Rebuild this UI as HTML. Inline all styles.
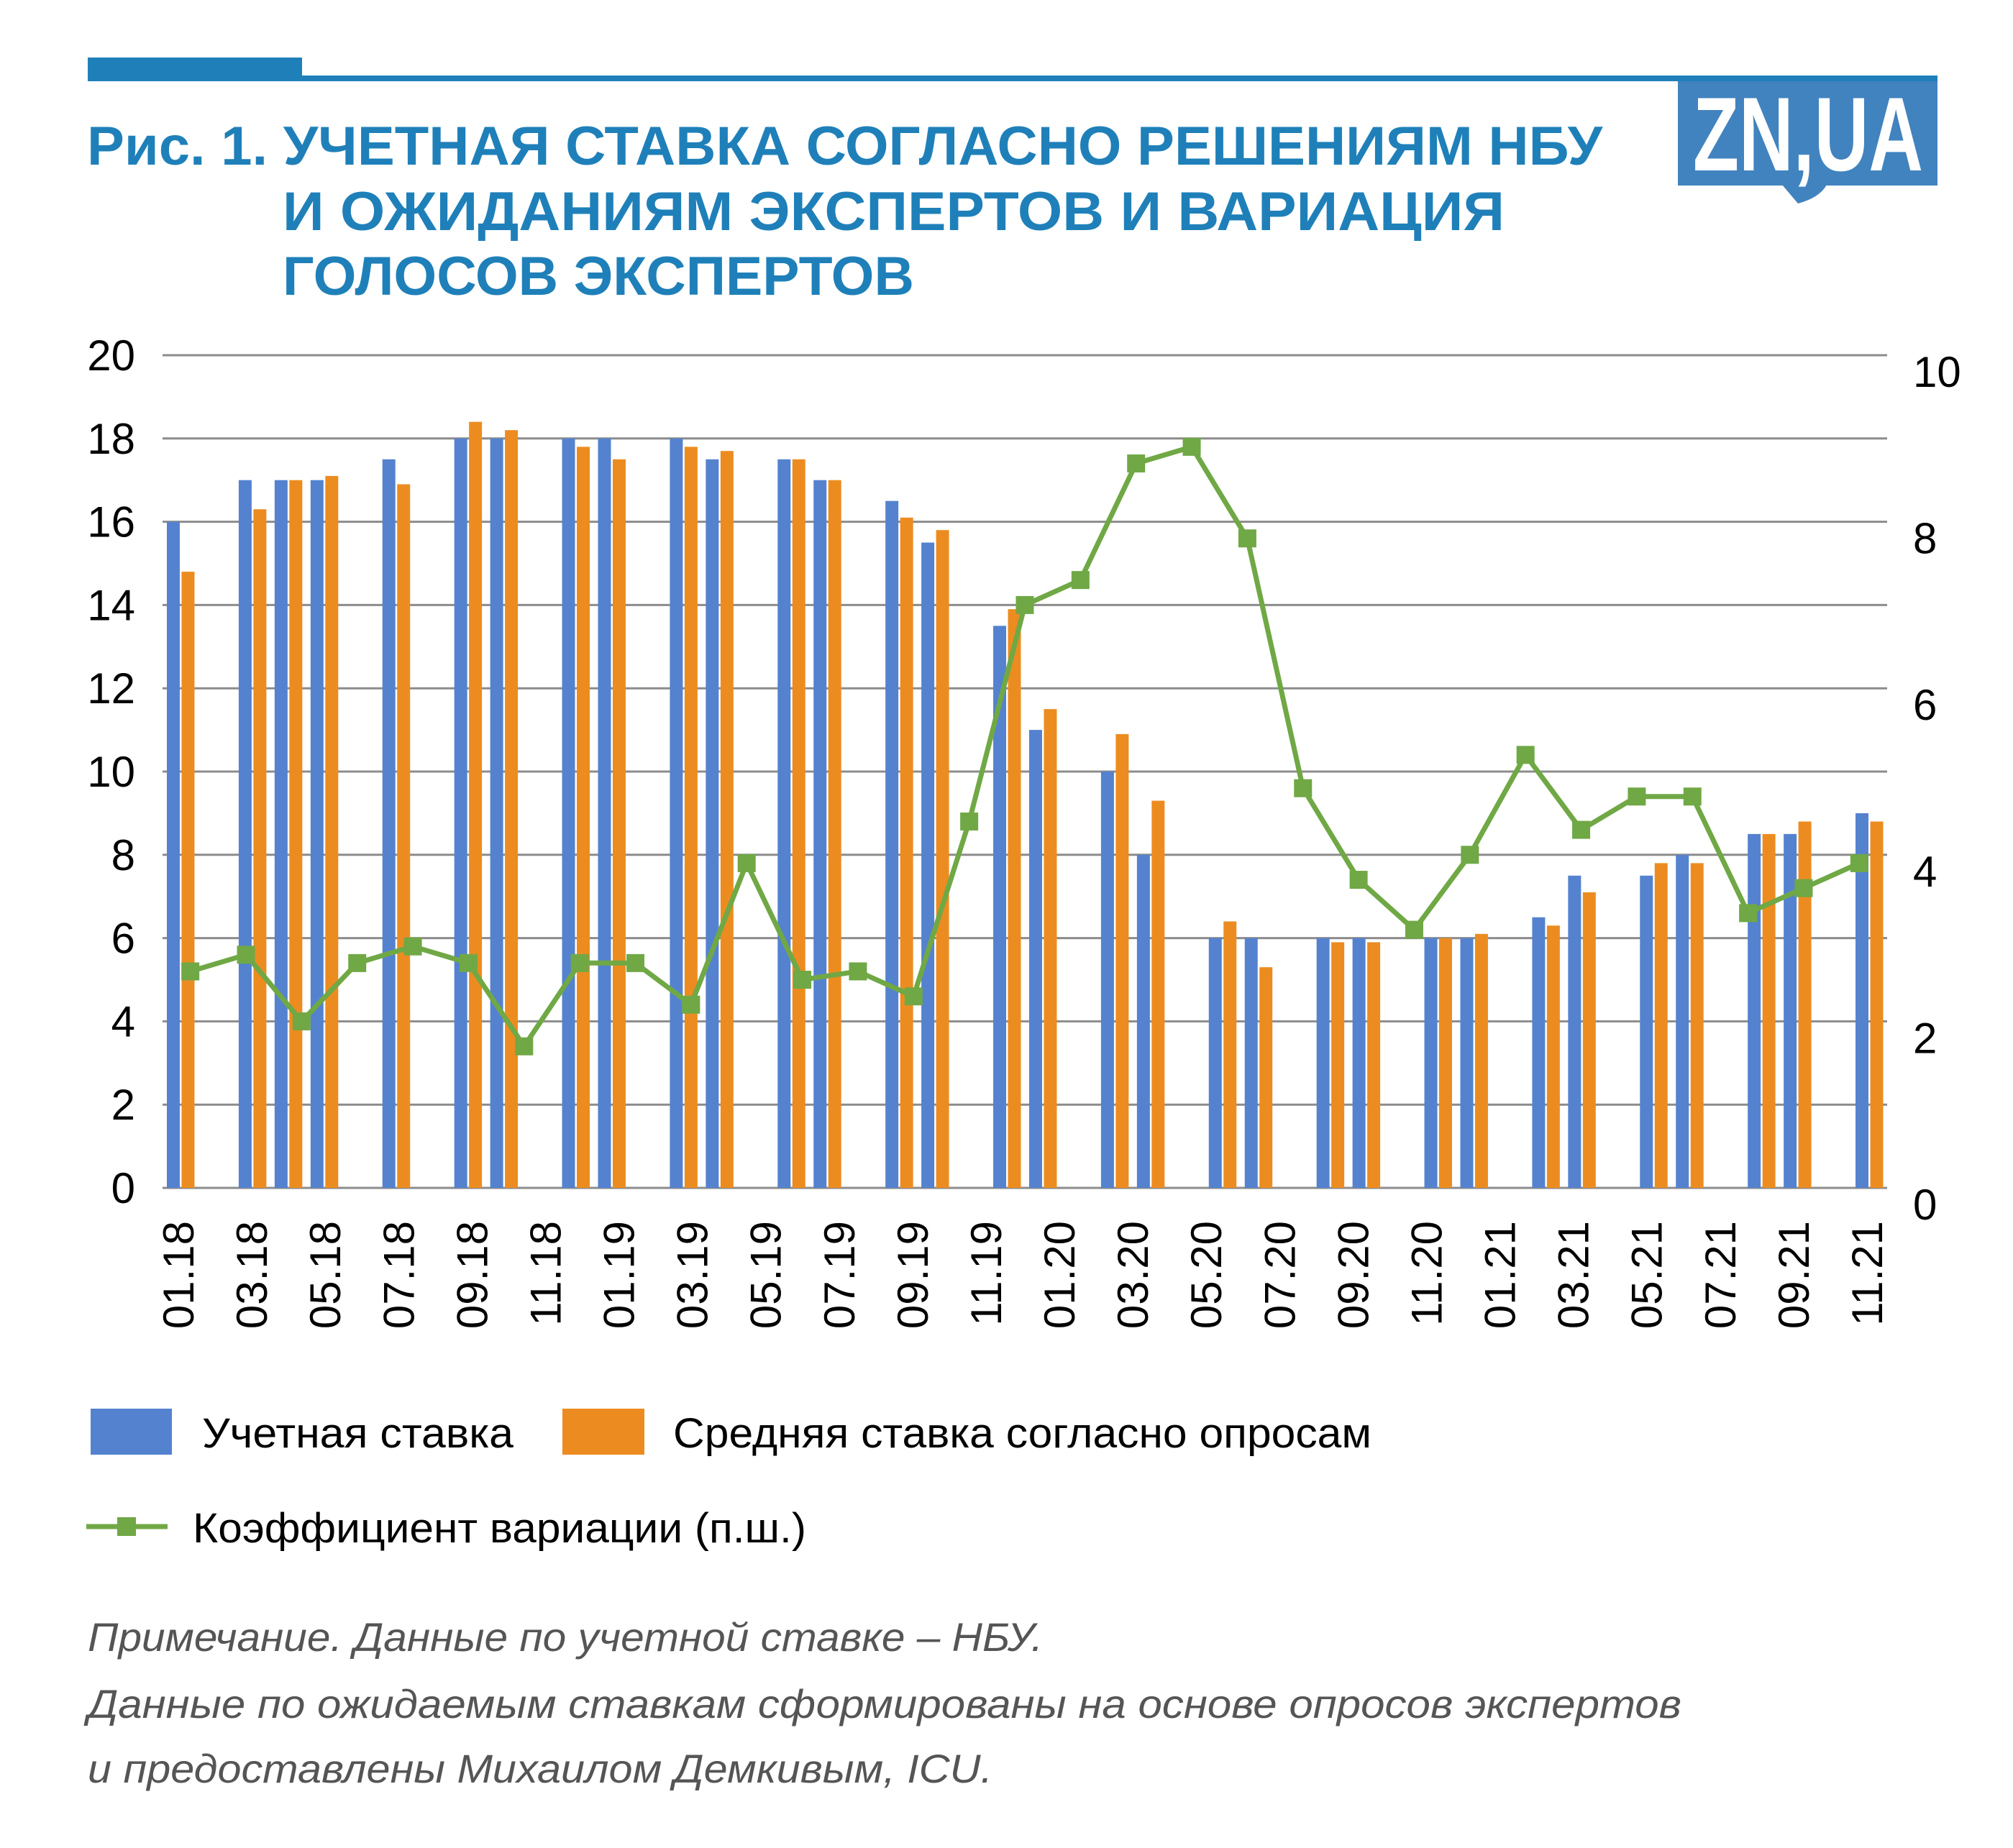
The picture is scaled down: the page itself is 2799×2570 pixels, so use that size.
<!DOCTYPE html>
<html><head><meta charset="utf-8"><style>
html,body{margin:0;padding:0;background:#fff;}
svg{display:block;}
text{font-family:"Liberation Sans",sans-serif;}
</style></head><body>
<svg id="chart" width="2799" height="2570" viewBox="0 0 2799 2570" xmlns="http://www.w3.org/2000/svg">
<rect x="0" y="0" width="2799" height="2570" fill="#fff"/>
<g>
<rect x="122" y="80" width="298" height="33" fill="#1f80b9"/>
<rect x="122" y="105" width="2572" height="8" fill="#1f80b9"/>
<g>
<rect x="2333" y="113" width="361" height="145" fill="#4183bf"/>
<path d="M2478 257 L2500 283 Q2530 275 2540 257 Z" fill="#4183bf"/>
<text x="2354" y="237" font-size="146" font-weight="bold" fill="#fff" textLength="320" lengthAdjust="spacingAndGlyphs">ZN,UA</text>
</g>
<g fill="#1f80b9" font-weight="bold" font-size="76">
<text x="121" y="229" textLength="2107" lengthAdjust="spacingAndGlyphs">Рис. 1. УЧЕТНАЯ СТАВКА СОГЛАСНО РЕШЕНИЯМ НБУ</text>
<text x="393" y="320" textLength="1699" lengthAdjust="spacingAndGlyphs">И ОЖИДАНИЯМ ЭКСПЕРТОВ И ВАРИАЦИЯ</text>
<text x="393" y="410" textLength="878" lengthAdjust="spacingAndGlyphs">ГОЛОСОВ ЭКСПЕРТОВ</text>
</g>
</g>
<g id="grid"></g>
<g id="yleft"></g>
<g id="yright"></g>
<g id="bars"></g>
<g id="line"></g>
<g id="xaxis"></g>
<g>
<g>
<rect x="126" y="1959" width="113" height="64" fill="#5482cf"/>
<text x="281" y="2013" font-size="58" fill="#000" textLength="433" lengthAdjust="spacingAndGlyphs">Учетная ставка</text>
</g>
<g>
<rect x="782" y="1959" width="114" height="64" fill="#ec8c20"/>
<text x="936" y="2013" font-size="58" fill="#000" textLength="971" lengthAdjust="spacingAndGlyphs">Средняя ставка согласно опросам</text>
</g>
<g>
<line x1="120" y1="2123" x2="233" y2="2123" stroke="#70a845" stroke-width="7"/>
<rect x="163" y="2110" width="26" height="26" fill="#70a845"/>
<text x="268" y="2145" font-size="58" fill="#000" textLength="853" lengthAdjust="spacingAndGlyphs">Коэффициент вариации (п.ш.)</text>
</g>
</g>
<g fill="#555" font-style="italic" font-size="56">
<text x="122" y="2296" textLength="1328" lengthAdjust="spacingAndGlyphs">Примечание. Данные по учетной ставке – НБУ.</text>
<text x="122" y="2389" textLength="2216" lengthAdjust="spacingAndGlyphs">Данные по ожидаемым ставкам сформированы на основе опросов экспертов</text>
<text x="122" y="2479" textLength="1258" lengthAdjust="spacingAndGlyphs">и предоставлены Михаилом Демкивым, ICU.</text>
</g>
</svg>
<script>
const monthIndex = [0,2,3,4,6,8,9,11,12,14,15,17,18,20,21,23,24,26,27,29,30,32,33,35,36,38,39,41,42,44,45,47];
const keyRate = [16,17,17,17,17.5,18,18,18,18,18,17.5,17.5,17,16.5,15.5,13.5,11,10,8,6,6,6,6,6,6,6.5,7.5,7.5,8,8.5,8.5,9];
const surveyRate = [14.8,16.3,17,17.1,16.9,18.4,18.2,17.8,17.5,17.8,17.7,17.5,17,16.1,15.8,13.9,11.5,10.9,9.3,6.4,5.3,5.9,5.9,6,6.1,6.3,7.1,7.8,7.8,8.5,8.8,8.8];
const variation = [2.6,2.8,2.0,2.7,2.9,2.7,1.7,2.7,2.7,2.2,3.9,2.5,2.6,2.3,4.4,7.0,7.3,8.7,8.9,7.8,4.8,3.7,3.1,4.0,5.2,4.3,4.7,4.7,3.3,3.6,3.9];
const xLabels = ["01.18","03.18","05.18","07.18","09.18","11.18","01.19","03.19","05.19","07.19","09.19","11.19","01.20","03.20","05.20","07.20","09.20","11.20","01.21","03.21","05.21","07.21","09.21","11.21"];
const leftTicks = [0,2,4,6,8,10,12,14,16,18,20];
const rightTicks = [0,2,4,6,8,10];

const NS = "http://www.w3.org/2000/svg";
const X0 = 226, X1 = 2624, Y0 = 1652, Y20 = 494;
const nCat = 48, catW = (X1 - X0) / nCat;
function yL(v){ return Y0 - (v/20)*(Y0-Y20); }
function yR(v){ return Y0 - (v/10)*(Y0-Y20); }
function xCat(i){ return X0 + i*catW; }
function xLine(i){ return X0 + (i+0.5)*((X1-X0)/variation.length); }
function xLab(i){ return 248 + i*(2596-248)/(xLabels.length-1); }
function mk(tag, attrs, parent){ const e=document.createElementNS(NS,tag); for(const k in attrs) e.setAttribute(k,attrs[k]); parent.appendChild(e); return e; }

const grid = document.getElementById('grid');
leftTicks.forEach(t=>{
  const l = mk('line',{x1:X0,x2:X1,y1:yL(t),y2:yL(t),stroke:'#8c8c8c','stroke-width':3},grid);
  
  
});
const yl = document.getElementById('yleft');
leftTicks.forEach(t=>{
  const tx = mk('text',{x:188,y:yL(t)+21,'text-anchor':'end','font-size':60,fill:'#000'},yl);
  tx.textContent = t;
  
  
});
const yr = document.getElementById('yright');
rightTicks.forEach(t=>{
  const tx = mk('text',{x:2660,y:yR(t)+44,'font-size':60,fill:'#000'},yr);
  tx.textContent = t;
  
  
});
const bars = document.getElementById('bars');
const bw = catW*0.36;
monthIndex.forEach((m,i)=>{
  const xl = xCat(m) + catW*0.12;
  const b = mk('rect',{x:xl,y:yL(keyRate[i]),width:bw,height:Y0-yL(keyRate[i]),fill:'#5482cf'},bars);
  
  
  const o = mk('rect',{x:xl+catW*0.41,y:yL(surveyRate[i]),width:bw,height:Y0-yL(surveyRate[i]),fill:'#ec8c20'},bars);
  
  
});
const lg = document.getElementById('line');
const pts = variation.map((v,i)=>xLine(i).toFixed(1)+','+yR(v).toFixed(1)).join(' ');
const pl = mk('polyline',{points:pts,fill:'none',stroke:'#70a845','stroke-width':7,'stroke-linejoin':'round'},lg);


variation.forEach((v,i)=>{
  const r = mk('rect',{x:xLine(i)-12.5,y:yR(v)-12.5,width:25,height:25,fill:'#70a845'},lg);
  
  
});
const xa = document.getElementById('xaxis');
xLabels.forEach((s,i)=>{
  const x = xLab(i)+21;
  const tx = mk('text',{x:x,y:1698,'text-anchor':'end','font-size':60,fill:'#000',transform:'rotate(-90 '+x+' 1698)'},xa);
  tx.textContent = s;
  
  
});
</script>
</body></html>
